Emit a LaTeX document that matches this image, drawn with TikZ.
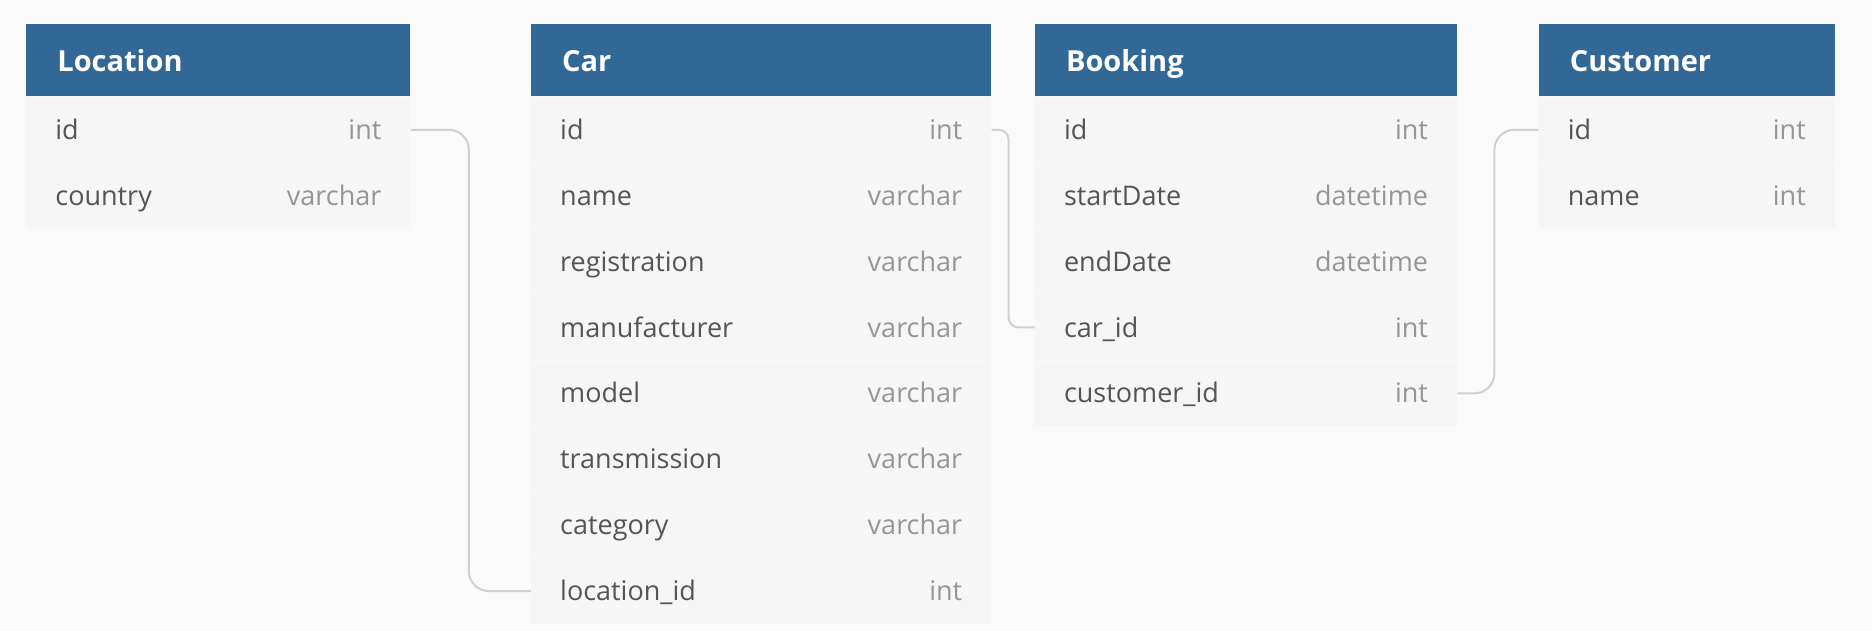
\documentclass[tikz,border=0pt]{standalone}
\usepackage{fontspec}
\setmainfont{Open Sans}
\usetikzlibrary{positioning}
\definecolor{headblue}{RGB}{50,104,150}
\definecolor{rowgray}{RGB}{246,246,246}
\definecolor{pagegray}{RGB}{250,250,250}
\definecolor{namegray}{RGB}{85,85,85}
\definecolor{typegray}{RGB}{150,150,150}
\definecolor{linkgray}{RGB}{208,208,208}
\newcommand{\field}[2]{#1\hfill\textcolor{typegray}{#2}}
\tikzstyle{tblhead} = [rectangle, fill=headblue, text=white, font=\fontsize{14.5}{18}\selectfont\bfseries, minimum height=36pt, text height=11pt, text depth=0pt, inner xsep=15.5pt, inner ysep=0pt, node distance=0pt]
\tikzstyle{tblrow} = [rectangle, fill=rowgray, text=namegray, font=\fontsize{13.5}{16}\selectfont, minimum height=32.55pt, text height=9.6pt, text depth=0pt, inner xsep=14.5pt, inner ysep=0pt, node distance=0pt]
\tikzstyle{link} = [draw, linkgray, line width=1pt]

\begin{document}
\begin{tikzpicture}
\fill[pagegray] (0,0) rectangle (936pt,-315.5pt);
\useasboundingbox (0,0) rectangle (936pt,-315.5pt);
\node [tblhead, text width=161pt, anchor=north west] (loc) at (13pt,-12pt) {Location};
\node [tblrow, text width=163pt, below = of loc] (loc-id) {\field{id}{int}};
\node [tblrow, text width=163pt, below = of loc-id] (loc-country) {\field{country}{varchar}};
\node [tblhead, text width=199pt, right = 60pt of loc] (car) {Car};
\node [tblrow, text width=201pt, below = of car] (car-id) {\field{id}{int}};
\node [tblrow, text width=201pt, below = of car-id] (car-name) {\field{name}{varchar}};
\node [tblrow, text width=201pt, below = of car-name] (car-reg) {\field{registration}{varchar}};
\node [tblrow, text width=201pt, below = of car-reg] (car-man) {\field{manufacturer}{varchar}};
\node [tblrow, text width=201pt, below = of car-man] (car-model) {\field{model}{varchar}};
\node [tblrow, text width=201pt, below = of car-model] (car-trans) {\field{transmission}{varchar}};
\node [tblrow, text width=201pt, below = of car-trans] (car-cat) {\field{category}{varchar}};
\node [tblrow, text width=201pt, below = of car-cat] (car-locid) {\field{location\_id}{int}};
\node [tblhead, text width=180pt, right = 21.5pt of car] (book) {Booking};
\node [tblrow, text width=182pt, below = of book] (book-id) {\field{id}{int}};
\node [tblrow, text width=182pt, below = of book-id] (book-start) {\field{startDate}{datetime}};
\node [tblrow, text width=182pt, below = of book-start] (book-end) {\field{endDate}{datetime}};
\node [tblrow, text width=182pt, below = of book-end] (book-carid) {\field{car\_id}{int}};
\node [tblrow, text width=182pt, below = of book-carid] (book-custid) {\field{customer\_id}{int}};
\node [tblhead, text width=117pt, right = 40.5pt of book] (cust) {Customer};
\node [tblrow, text width=119pt, below = of cust] (cust-id) {\field{id}{int}};
\node [tblrow, text width=119pt, below = of cust-id] (cust-name) {\field{name}{int}};
\path[link, rounded corners=10pt] (loc-id.east) -- ++(29pt,0) |- (car-locid.west);
\path[link, rounded corners=5pt] (car-id.east) -- ++(8.5pt,0) |- (book-carid.west);
\path[link, rounded corners=10pt] (book-custid.east) -- ++(18.5pt,0) |- (cust-id.west);
\end{tikzpicture}
\end{document}
